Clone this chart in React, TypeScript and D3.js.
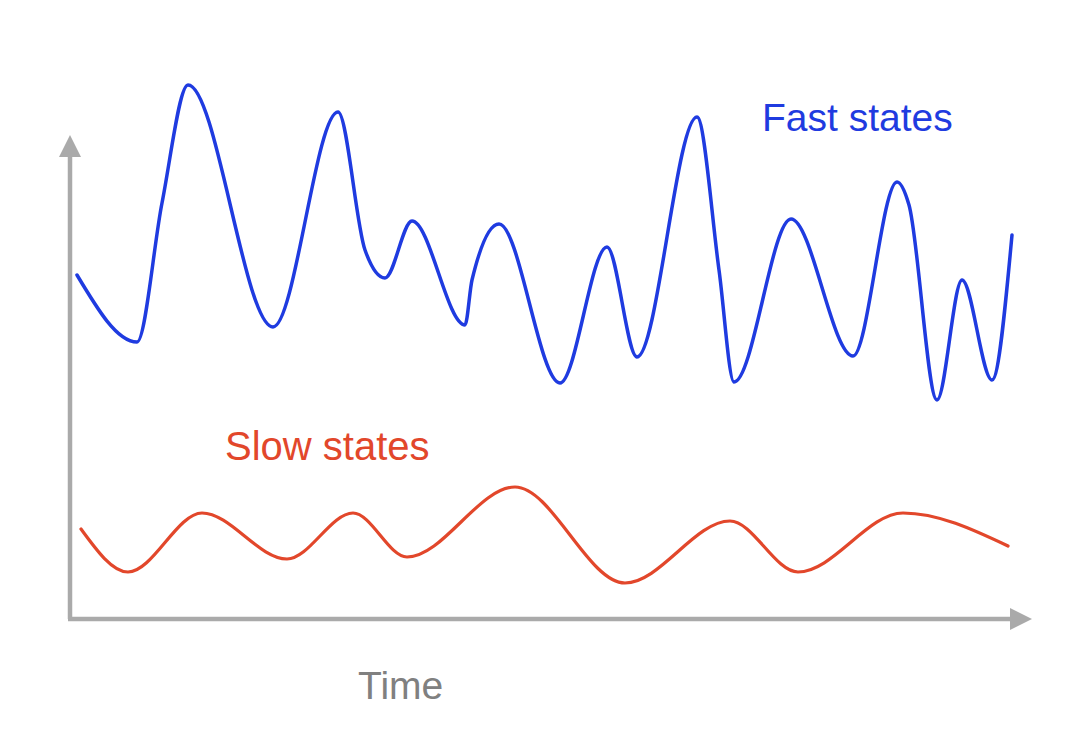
import * as d3 from "d3";
import React from "react";

// time axis in arbitrary units, state value in arbitrary units
const fastTime = [
  0.7, 6.7, 9.2, 11.8, 20.3, 26.8, 29.5, 31.5, 34.2, 39.5, 40.2, 42.9, 49.0,
  53.7, 56.7, 62.7, 64.9, 66.4, 72.1, 78.3, 82.7, 83.9, 86.7, 89.2, 92.2, 94.2,
];
const fastValue = [
  68.8, 55.4, 83.2, 106.8, 58.4, 101.4, 73.8, 68.2, 79.6, 58.8, 67.8, 79.0,
  47.2, 74.4, 52.4, 100.4, 69.8, 47.4, 80.0, 52.6, 87.4, 82.8, 43.8, 67.8, 47.8,
  76.8,
];

const slowTime = [
  1.1, 5.8, 13.2, 21.7, 28.3, 33.7, 44.5, 55.5, 66.0, 72.8, 83.3, 93.8,
];
const slowValue = [
  18.0, 9.4, 21.2, 12.0, 21.2, 12.4, 26.4, 7.2, 19.6, 9.4, 21.2, 14.6,
];

const AXIS_END_TIME = 96.2;
const AXIS_END_VALUE = 96.8;

const W = 1073;
const H = 745;

const BLUE = "#1f3be0";
const RED = "#e2472b";
const GRAY = "#aaaaaa";

const App: React.FC = () => {
  const x = d3.scaleLinear().domain([0, 100]).range([70, 1070]);
  const y = d3.scaleLinear().domain([0, 100]).range([619, 119]);

  const line = d3
    .line<[number, number]>()
    .x((d) => x(d[0]))
    .y((d) => y(d[1]))
    .curve(d3.curveMonotoneX);

  const fast = fastTime.map((t, i) => [t, fastValue[i]] as [number, number]);
  const slow = slowTime.map((t, i) => [t, slowValue[i]] as [number, number]);

  const x0 = x(0);
  const y0 = y(0);
  const xEnd = x(AXIS_END_TIME);
  const yEnd = y(AXIS_END_VALUE);
  const head = 22;
  const half = 11;

  const font = "'Liberation Sans', Arial, Helvetica, sans-serif";

  return (
    <svg
      width={W}
      height={H}
      style={{ position: "absolute", left: 0, top: 0, background: "#fff" }}
    >
      {/* axes */}
      <line x1={x0} y1={y0} x2={x0} y2={yEnd + head - 1} stroke={GRAY} strokeWidth={4.5} />
      <polygon
        points={`${x0},${yEnd} ${x0 - half},${yEnd + head} ${x0 + half},${yEnd + head}`}
        fill={GRAY}
      />
      <line x1={x0 - 2} y1={y0} x2={xEnd - head + 1} y2={y0} stroke={GRAY} strokeWidth={4.5} />
      <polygon
        points={`${xEnd},${y0} ${xEnd - head},${y0 - half} ${xEnd - head},${y0 + half}`}
        fill={GRAY}
      />

      <path d={line(fast) ?? ""} fill="none" stroke={BLUE} strokeWidth={3.5} strokeLinecap="round" strokeLinejoin="round" />
      <path d={line(slow) ?? ""} fill="none" stroke={RED} strokeWidth={3.2} strokeLinecap="round" strokeLinejoin="round" />

      <text x={762} y={131} fill={BLUE} fontSize={39} fontFamily={font}>
        Fast states
      </text>
      <text x={225} y={460} fill={RED} fontSize={40} fontFamily={font}>
        Slow states
      </text>
      <text x={358} y={699} fill="#808080" fontSize={39} fontFamily={font}>
        Time
      </text>
    </svg>
  );
};

export default App;
